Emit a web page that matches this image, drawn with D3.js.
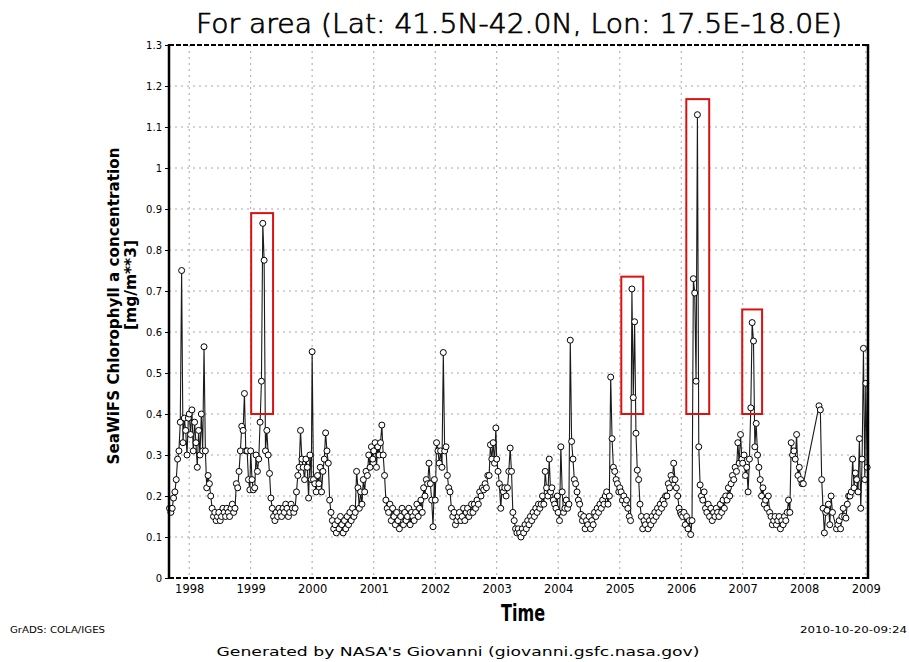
<!DOCTYPE html>
<html>
<head>
<meta charset="utf-8">
<script src="https://cdn.jsdelivr.net/npm/d3@7/dist/d3.min.js"></script>
<style>
  body { margin: 0; background: #fff; }
  svg text { font-family: "DejaVu Sans", sans-serif; fill: #000; }
</style>
</head>
<body>
<svg id="chart"></svg>
<script>
// SeaWiFS 8-day composites (days 1, 9, 17, ... of each year), mg/m**3
// 1997 starts at composite 31 (Sep 6); null = no data
const chl1997 = [0.17, 0.16, 0.17, 0.195, 0.21, 0.24, 0.29, 0.31, 0.38, 0.75, 0.33, 0.39, 0.36, 0.30, 0.39];
const chl1998 = [0.40, 0.35, 0.41, 0.31, 0.38, 0.33, 0.27, 0.36, 0.30, 0.40, 0.31, 0.564, 0.31, 0.22, 0.25, 0.23,
  0.20, 0.17, 0.15, 0.16, 0.14, 0.15, 0.16, 0.14, 0.15, 0.17, 0.16, 0.15, 0.17, 0.16, 0.15, 0.17,
  0.18, 0.16, 0.17, 0.23, 0.22, 0.26, 0.31, 0.37, 0.36, 0.45, 0.31, 0.31, 0.24, 0.215];
const chl1999 = [0.31, 0.24, 0.215, 0.22, 0.30, 0.26, 0.29, 0.38, 0.48, 0.865, 0.775, 0.31, 0.36, 0.30, 0.255, 0.195,
  0.17, 0.15, 0.14, 0.16, 0.15, 0.17, 0.16, 0.15, 0.17, 0.16, 0.18, 0.17, 0.15, 0.16, 0.18, 0.17,
  0.16, 0.17, 0.21, 0.25, 0.27, 0.36, 0.29, 0.27, 0.24, 0.29, 0.27, 0.195, 0.30, 0.24];
const chl2000 = [0.552, 0.24, 0.23, 0.21, 0.25, 0.23, 0.27, 0.21, 0.26, 0.29, 0.354, 0.31, 0.28, 0.19, 0.16, 0.14,
  0.12, 0.13, 0.11, 0.14, 0.12, 0.15, 0.13, 0.11, 0.14, 0.12, 0.15, 0.13, 0.16, 0.14, 0.17, 0.15,
  0.16, 0.26, 0.22, 0.17, 0.21, 0.18, 0.24, 0.21, 0.26, 0.25, 0.30, 0.27, 0.32, 0.29];
const chl2001 = [0.31, 0.33, 0.27, 0.32, 0.30, 0.33, 0.373, 0.30, 0.25, 0.19, 0.17, 0.16, 0.18, 0.14, 0.17, 0.15,
  0.13, 0.16, 0.14, 0.12, 0.15, 0.17, 0.13, 0.16, 0.14, 0.15, 0.17, 0.13, 0.16, 0.15, 0.14, 0.16,
  0.18, 0.15, 0.17, 0.19, 0.16, 0.22, 0.20, 0.24, 0.23, 0.28, 0.23, 0.19, 0.125, 0.24];
const chl2002 = [0.19, 0.33, 0.31, 0.28, 0.31, 0.27, 0.55, 0.31, 0.32, 0.25, 0.22, 0.21, 0.17, 0.15, 0.16, 0.13,
  0.14, 0.15, 0.16, 0.14, 0.15, 0.17, 0.14, 0.16, 0.17, 0.15, 0.16, 0.18, 0.16, 0.18, 0.17, 0.19,
  0.18, 0.21, 0.20, 0.22, 0.215, 0.23, 0.22, 0.25, 0.25, 0.325, 0.29, 0.33, 0.28, 0.366];
const chl2003 = [0.29, 0.26, 0.23, 0.17, 0.22, 0.21, 0.22, 0.20, 0.22, 0.26, 0.317, 0.26, 0.16, 0.14, 0.12, 0.11,
  0.12, 0.11, 0.10, 0.12, 0.11, 0.13, 0.12, 0.14, 0.13, 0.15, 0.14, 0.16, 0.15, 0.17, 0.16, 0.18,
  0.17, 0.18, 0.20, 0.18, 0.26, 0.22, 0.20, 0.29, 0.21, 0.22, 0.19, 0.18, 0.17, 0.20];
const chl2004 = [0.16, 0.14, 0.32, 0.21, 0.16, 0.17, 0.19, 0.17, 0.18, 0.58, 0.333, 0.29, 0.24, 0.23, 0.21, 0.19,
  0.18, 0.155, 0.14, 0.15, 0.12, 0.14, 0.13, 0.15, 0.12, 0.14, 0.13, 0.16, 0.15, 0.17, 0.16, 0.18,
  0.17, 0.19, 0.18, 0.20, 0.21, 0.18, 0.20, 0.49, 0.34, 0.27, 0.26, 0.24, 0.23, 0.21];
const chl2005 = [0.22, 0.21, 0.19, 0.20, 0.18, 0.19, 0.17, 0.15, 0.14, 0.705, 0.44, 0.625, 0.353, 0.263, 0.24, 0.18,
  0.15, 0.12, 0.14, 0.13, 0.15, 0.12, 0.14, 0.13, 0.15, 0.14, 0.16, 0.15, 0.17, 0.16, 0.18, 0.17,
  0.19, 0.18, 0.20, 0.20, 0.23, 0.22, 0.25, 0.24, 0.28, 0.24, 0.22, 0.20, 0.17, 0.16];
const chl2006 = [0.155, 0.15, 0.16, 0.13, 0.15, 0.12, 0.14, 0.106, 0.14, 0.73, 0.695, 0.48, 1.13, 0.32, 0.227, 0.20,
  0.19, 0.21, 0.17, 0.16, 0.18, 0.15, 0.17, 0.14, 0.16, 0.15, 0.17, 0.16, 0.15, 0.18, 0.16, 0.19,
  0.17, 0.20, 0.19, 0.22, 0.20, 0.23, 0.25, 0.24, 0.27, 0.26, 0.33, 0.28, 0.35, 0.29];
const chl2007 = [0.28, 0.30, 0.25, 0.27, 0.21, 0.29, 0.415, 0.623, 0.578, 0.32, 0.377, 0.30, 0.27, 0.24, 0.20, 0.22,
  0.18, 0.19, 0.17, 0.20, 0.16, 0.15, 0.13, 0.14, 0.15, 0.13, 0.14, 0.15, 0.12, 0.14, 0.13, 0.15,
  0.14, 0.16, 0.19, 0.16, 0.33, 0.30, 0.31, 0.29, 0.35, 0.25, 0.27, 0.24, 0.23, 0.23];
const chl2008 = [null, null, null, null, null, null, null, null, null, null, null, 0.42, 0.41, 0.24, 0.17, 0.11,
  0.16, 0.165, 0.18, 0.13, 0.20, 0.16, null, null, 0.12, 0.13, 0.14, 0.12, 0.15, 0.17, 0.15, 0.146,
  0.18, 0.20, 0.20, 0.21, 0.29, 0.22, 0.256, 0.24, 0.21, 0.34, 0.17, 0.29, 0.56, 0.24];
const chl2009 = [0.475, 0.27];

const seriesYears = [1997, 1998, 1999, 2000, 2001, 2002, 2003, 2004, 2005, 2006, 2007, 2008, 2009];
const seriesValues = [chl1997, chl1998, chl1999, chl2000, chl2001, chl2002, chl2003, chl2004, chl2005, chl2006, chl2007, chl2008, chl2009];
const firstComposite = [31, 0, 0, 0, 0, 0, 0, 0, 0, 0, 0, 0, 0];

const yTicks = [0, 0.1, 0.2, 0.3, 0.4, 0.5, 0.6, 0.7, 0.8, 0.9, 1, 1.1, 1.2, 1.3];
const yearTicks = [1998, 1999, 2000, 2001, 2002, 2003, 2004, 2005, 2006, 2007, 2008, 2009];

// highlighted events (red boxes): date range and value range
const boxStart = ["1999-01-04", "2005-01-10", "2006-01-31", "2006-12-29"];
const boxEnd   = ["1999-05-14", "2005-05-20", "2006-06-16", "2007-04-26"];
const boxLow   = [0.40, 0.40, 0.40, 0.40];
const boxHigh  = [0.89, 0.735, 1.168, 0.655];

const width = 909;
const height = 662;
const marginTop = 45;
const marginRight = 41;
const marginBottom = 84;
const marginLeft = 169;

// build the point list
const data = [];
seriesYears.forEach((yr, k) => {
  seriesValues[k].forEach((v, j) => {
    const i = firstComposite[k] + j;
    if (v != null) data.push({ date: new Date(yr, 0, 1 + 8 * i), value: v });
  });
});

const x = d3.scaleTime()
  .domain([new Date(1997, 8, 3), new Date(2009, 0, 14)])
  .range([marginLeft, width - marginRight]);

const y = d3.scaleLinear()
  .domain([0, 1.3])
  .range([height - marginBottom, marginTop]);

const svg = d3.select("#chart")
  .attr("width", width)
  .attr("height", height)
  .attr("viewBox", `0 0 ${width} ${height}`);

svg.append("rect").attr("width", width).attr("height", height).attr("fill", "#fff");

// grid (dotted, light grey)
svg.append("g")
  .selectAll("line")
  .data(yTicks.filter(d => d > 0 && d < 1.3))
  .join("line")
    .attr("x1", marginLeft).attr("x2", width - marginRight)
    .attr("y1", d => y(d)).attr("y2", d => y(d))
    .attr("stroke", "#a8a8a8").attr("stroke-dasharray", "2,4");

svg.append("g")
  .selectAll("line")
  .data(yearTicks)
  .join("line")
    .attr("x1", d => x(new Date(d, 0, 1))).attr("x2", d => x(new Date(d, 0, 1)))
    .attr("y1", marginTop).attr("y2", height - marginBottom)
    .attr("stroke", "#a8a8a8").attr("stroke-dasharray", "2,4");

// axes
svg.append("g")
  .attr("transform", `translate(${marginLeft},0)`)
  .call(d3.axisLeft(y).tickValues(yTicks).tickSize(4).tickPadding(3)
    .tickFormat(d => String(+d.toFixed(1))))
  .call(g => g.select(".domain").remove())
  .call(g => g.selectAll("text").attr("font-size", 10).style("font-family", "DejaVu Sans"));

svg.append("g")
  .attr("transform", `translate(0,${height - marginBottom})`)
  .call(d3.axisBottom(x).tickValues(yearTicks.map(d => new Date(d, 0, 1)))
    .tickSize(0).tickPadding(7).tickFormat(d3.timeFormat("%Y")))
  .call(g => g.select(".domain").remove())
  .call(g => g.selectAll("text").attr("font-size", 11.5).style("font-family", "DejaVu Sans"));

// series line
svg.append("path")
  .datum(data)
  .attr("fill", "none")
  .attr("stroke", "#1a1a1a")
  .attr("stroke-width", 1.1)
  .attr("d", d3.line().x(d => x(d.date)).y(d => y(d.value)));

// markers
svg.append("g")
  .selectAll("circle")
  .data(data)
  .join("circle")
    .attr("cx", d => x(d.date))
    .attr("cy", d => y(d.value))
    .attr("r", 3)
    .attr("fill", "#fff")
    .attr("stroke", "#000")
    .attr("stroke-width", 1);

// frame
const x0 = marginLeft, x1 = width - marginRight, y0 = marginTop, y1 = height - marginBottom;
svg.append("line").attr("x1", x0).attr("x2", x1).attr("y1", y0).attr("y2", y0)
  .attr("stroke", "#000").attr("stroke-width", 2).attr("stroke-dasharray", "5,2");
svg.append("line").attr("x1", x0).attr("x2", x1).attr("y1", y1).attr("y2", y1)
  .attr("stroke", "#000").attr("stroke-width", 2).attr("stroke-dasharray", "5,2");
svg.append("line").attr("x1", x0).attr("x2", x0).attr("y1", y0 - 1).attr("y2", y1 + 1)
  .attr("stroke", "#000").attr("stroke-width", 2.5);
svg.append("line").attr("x1", x1).attr("x2", x1).attr("y1", y0 - 1).attr("y2", y1 + 1)
  .attr("stroke", "#000").attr("stroke-width", 2.5);

// red boxes
svg.append("g")
  .selectAll("rect")
  .data(boxStart.map((s, i) => ({ s: new Date(s), e: new Date(boxEnd[i]), lo: boxLow[i], hi: boxHigh[i] })))
  .join("rect")
    .attr("x", d => x(d.s))
    .attr("y", d => y(d.hi))
    .attr("width", d => x(d.e) - x(d.s))
    .attr("height", d => y(d.lo) - y(d.hi))
    .attr("fill", "none")
    .attr("stroke", "#dd1111")
    .attr("stroke-width", 2);

// texts
svg.append("text")
  .attr("x", 519).attr("y", 33)
  .attr("text-anchor", "middle")
  .attr("font-size", 27).attr("font-weight", 200)
  .attr("stroke", "#000").attr("stroke-width", 0.7)
  .attr("textLength", 646).attr("lengthAdjust", "spacingAndGlyphs")
  .text("For area (Lat: 41.5N-42.0N, Lon: 17.5E-18.0E)");

svg.append("text")
  .attr("x", 523).attr("y", 621)
  .attr("text-anchor", "middle")
  .attr("font-size", 23).attr("font-weight", "bold")
  .attr("textLength", 44).attr("lengthAdjust", "spacingAndGlyphs")
  .text("Time");

svg.append("text")
  .attr("transform", "translate(119,306) rotate(-90)")
  .attr("text-anchor", "middle")
  .attr("font-size", 15).attr("font-weight", "bold")
  .attr("textLength", 317).attr("lengthAdjust", "spacingAndGlyphs")
  .text("SeaWiFS Chlorophyll a concentration");

svg.append("text")
  .attr("transform", "translate(136,285) rotate(-90)")
  .attr("text-anchor", "middle")
  .attr("font-size", 15).attr("font-weight", "bold")
  .attr("textLength", 90).attr("lengthAdjust", "spacingAndGlyphs")
  .text("[mg/m**3]");

svg.append("text")
  .attr("x", 10).attr("y", 633)
  .attr("font-size", 8.5)
  .attr("textLength", 95).attr("lengthAdjust", "spacingAndGlyphs")
  .text("GrADS: COLA/IGES");

svg.append("text")
  .attr("x", 907).attr("y", 633)
  .attr("text-anchor", "end")
  .attr("font-size", 8.5)
  .attr("textLength", 107).attr("lengthAdjust", "spacingAndGlyphs")
  .text("2010-10-20-09:24");

svg.append("text")
  .attr("x", 458).attr("y", 656)
  .attr("text-anchor", "middle")
  .attr("font-size", 13)
  .attr("textLength", 483).attr("lengthAdjust", "spacingAndGlyphs")
  .text("Generated by NASA's Giovanni (giovanni.gsfc.nasa.gov)");
</script>
</body>
</html>
